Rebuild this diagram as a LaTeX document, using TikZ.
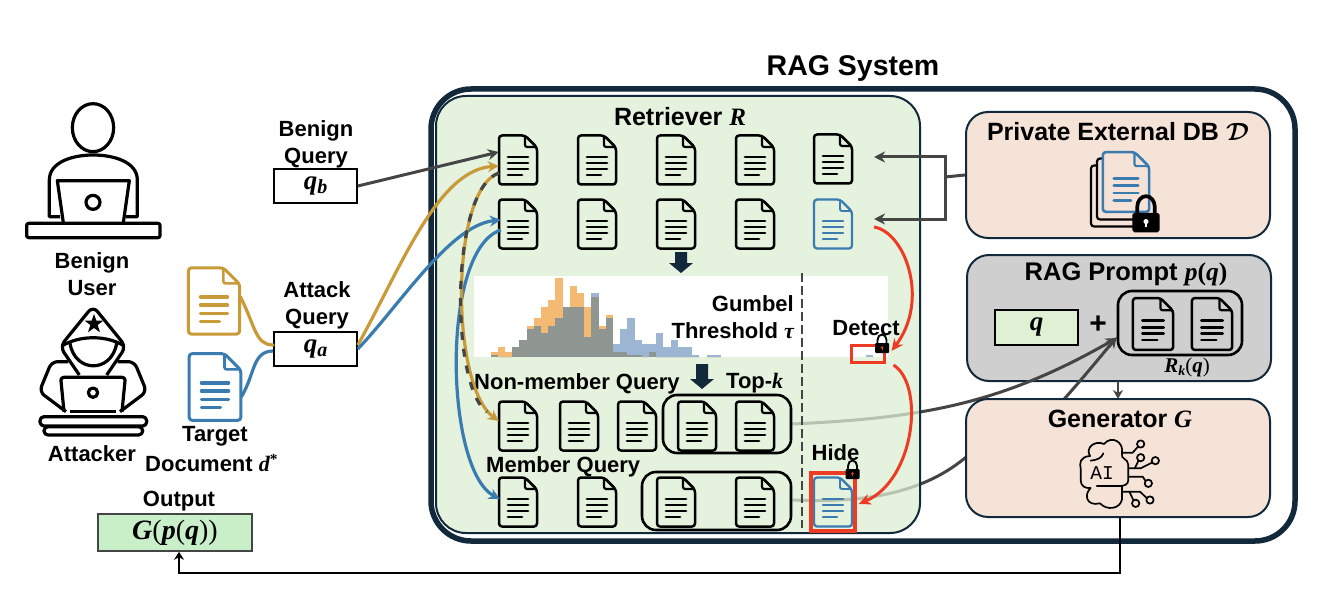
\documentclass[tikz,border=0pt]{standalone}
\usepackage{fontspec}
\setmainfont{Liberation Sans}
\newfontfamily\mvf{Liberation Serif}
\newfontfamily\aifont{Liberation Mono}
\newcommand\mv[1]{{\mvf\bfseries\itshape #1}}
\newcommand\mr[1]{{\mvf #1}}
\newcommand\fsz[1]{\fontsize{#1}{#1}\selectfont}
\usetikzlibrary{arrows.meta,calc}
\definecolor{navy}{HTML}{12293B}
\definecolor{docblue}{HTML}{3A7CB0}
\definecolor{docgold}{HTML}{C99A38}
\definecolor{linegray}{HTML}{454545}
\definecolor{redline}{HTML}{EE3B24}
\definecolor{peach}{HTML}{F5E3D8}
\definecolor{promptgray}{HTML}{CFCFCF}
\definecolor{histo}{HTML}{F4B973}
\definecolor{histb}{HTML}{9BB5D3}
\definecolor{histg}{HTML}{8F9591}
\definecolor{retr}{RGB}{219,238,212}
\definecolor{outgreen}{RGB}{201,239,201}
\definecolor{qgreen}{RGB}{223,240,213}
\pgfdeclarelayer{base}\pgfdeclarelayer{curves}\pgfdeclarelayer{mid}
\pgfsetlayers{base,curves,mid,main}
\def\doclw{2.5}
\tikzset{
  x=1pt,y=-1pt,
  lbl/.style={font=\bfseries\fsz{22},inner sep=0pt,align=center},
  panel/.style={draw=navy,line width=2pt,rounded corners=22pt,inner sep=0pt},
  qbox/.style={draw=black,line width=1.6pt,fill=white,inner sep=0pt,minimum width=83pt,minimum height=34pt,font=\fsz{27}},
  topbox/.style={draw=black,line width=2.6pt,rounded corners=14pt,inner sep=0pt},
  docnode/.style={inner sep=0pt,minimum width=38pt,minimum height=49pt},
  conn/.style={line width=3pt,color=linegray,-{Stealth[length=11pt,width=11pt]}},
  goldc/.style={line width=3.2pt,color=docgold},
  bluec/.style={line width=3.2pt,color=docblue},
  redc/.style={line width=3pt,color=redline,-{Stealth[length=12pt,width=11pt]}},
  blockarrow/.style={fill=navy,draw=none},
  doclw/.store in=\doclw,
  docicon/.pic={
    \path[draw,pic actions,line width=\doclw pt,rounded corners=3pt,line join=round]
      (-19,-24.5) -- (7,-24.5) -- (19,-12.5) -- (19,24.5) -- (-19,24.5) -- cycle;
    \draw[line width=.85*\doclw pt,rounded corners=2pt] (7,-24) -- (7,-13) -- (18.5,-13);
    \draw[line width=1.1*\doclw pt,line cap=round] (-10,-3)--(10,-3) (-10,3)--(10,3) (-10,9)--(10,9) (-10,15)--(4,15);
  }
}
\newcommand\docn[5][]{\node[docnode] (#2) at (#3,#4) {};\pic[color=#5,#1] at (#2) {docicon};}
\newcommand\lockicon[5]{%
  \begin{scope}[shift={(#1,#2)},x=#3pt,y=-#3pt]
   \draw[black,line width=#3*1.9pt] (-4.5,-5) -- (-4.5,-8) arc[start angle=180,end angle=0,x radius=4.5,y radius=-5.5] -- (4.5,-5);
   \fill[black,rounded corners=#3*1pt] (-7,-5) rectangle (7,5);
   \fill[#4] (0,-.5) circle[radius=1.3];
   \fill[#4] (-.5,0) rectangle (.5,#5);
  \end{scope}}
\begin{document}
\begin{tikzpicture}
\useasboundingbox (0,0) rectangle (1324,596);

% ---- layered boxes
\begin{pgfonlayer}{base}
 \fill[white] (0,0) rectangle (1324,596);
 \node[draw=navy,line width=5.5pt,rounded corners=40pt,minimum width=864pt,minimum height=452pt,inner sep=0pt] (rag) at (863,315) {};
 \node[panel,fill=promptgray,minimum width=304pt,minimum height=126pt] (prompt) at (1119,318) {};
\end{pgfonlayer}
\begin{pgfonlayer}{mid}
 \node[draw=navy,line width=2pt,fill=retr,fill opacity=.75,draw opacity=1,rounded corners=30pt,minimum width=484pt,minimum height=437pt,inner sep=0pt] (retriever) at (678,314.5) {};
 \node[panel,fill=peach,minimum width=304pt,minimum height=126pt] (db) at (1118,175) {};
 \node[panel,fill=peach,minimum width=304pt,minimum height=118pt] (gen) at (1118,458) {};
\end{pgfonlayer}

\node[lbl,font=\bfseries\fsz{28.5}] (ragt) at (853,69) {RAG System};
\node[lbl,font=\bfseries\fsz{25}] (rett) at (680,117) {Retriever \mv{R}};
\node[lbl,font=\bfseries\fsz{25}] (dbt) at (1118,132) {Private External DB {\boldmath$\mathcal{D}$}};
\node[lbl,font=\bfseries\fsz{25.5}] (prt) at (1126,274) {RAG Prompt \mv{p}\mr{(}\mv{q}\mr{)}};
\node[lbl,font=\bfseries\fsz{25}] (gent) at (1120,419) {Generator \mv{G}};

% ---- white histogram panel
\node[fill=white,minimum width=414pt,minimum height=81pt,inner sep=0pt] (histpanel) at (681,316.5) {};
\begin{scope}[shift={(430,90)},x=.33333pt,y=-.33333pt]
 \foreach \i/\o/\b/\g in {0/785/795/795,1/772/802/802,2/785/802/802,3/772/772/772,4/750/750/750,5/707/718/718,6/685/707/707,7/652/728/728,8/630/707/707,9/565/685/685,10/652/652/652,11/587/652/652,12/608/652/652,13/652/740/740,14/620/608/620,15/707/718/718,16/675/685/685,17/785/762/785,18/785/718/785,19/795/685/795,20/795/750/795,21/802/762/802,22/785/762/785,23/802/728/802,24/802/772/802,25/802/750/802,26/802/772/802,27/802/772/802,28/802/795/802,30/802/795/802,31/802/795/802}{
   \pgfmathsetmacro\xa{182+21.6*\i}\pgfmathsetmacro\xb{182+21.6*(\i+1)}
   \fill[histo] (\xa,\o) rectangle (\xb,802);
   \fill[histb] (\xa,\b) rectangle (\xb,802);
   \fill[histg] (\xa,\g) rectangle (\xb,802);
 }
 \fill[histb] (1307,795) rectangle (1330,802);
\end{scope}
\node[lbl,anchor=east] (gumbel) at (794,304) {Gumbel};
\node[lbl,anchor=east] (thresh) at (794,331) {Threshold \mv{τ}};
\node[lbl] (detect) at (866,328) {Detect};
\node[draw=redline,line width=3pt,inner sep=0pt,minimum width=33pt,minimum height=17pt] (detbox) at (867.5,354) {};
\lockicon{882}{348}{1}{redline}{2}

% ---- dashed divider
\coordinate (divT) at (802,273); \coordinate (divB) at (802,528);
\draw[linegray,line width=2.8pt,dash pattern=on 9pt off 4pt] (divT) -- (divB);

% ---- documents
\docn{d11}{518}{160}{black}\docn{d12}{597}{160}{black}\docn{d13}{676}{160}{black}\docn{d14}{755}{160}{black}\docn{d15}{833}{159}{black}
\docn{d21}{518}{224}{black}\docn{d22}{597}{224}{black}\docn{d23}{676}{224}{black}\docn{d24}{755}{224}{black}\docn[doclw=2.3]{d25}{833}{224}{docblue}
\docn{d31}{518}{426}{black}\docn{d32}{579}{426}{black}\docn{d33}{637}{426}{black}\docn{d34}{697}{426}{black}\docn{d35}{755}{426}{black}
\docn{d41}{518}{502}{black}\docn{d42}{597}{502}{black}\docn{d43}{676}{502}{black}\docn{d44}{755}{502}{black}\docn[doclw=2.3]{d45}{833}{502}{docblue}
\node[topbox,minimum width=128pt,minimum height=58pt] (topk) at (727,424) {};
\node[topbox,minimum width=149pt,minimum height=58pt] (member) at (716.5,501) {};
\node[draw=redline,line width=3.5pt,inner sep=0pt,minimum width=44pt,minimum height=58pt] (hidebox) at (833,502) {};
\lockicon{852.5}{474}{1}{redline}{2}

\node[lbl,anchor=west] (nonm) at (474,384) {Non-member Query};
\node[lbl,anchor=west] (memq) at (486,467) {Member Query};
\node[lbl,anchor=west] (topkt) at (726,383) {Top-\mv{k}};
\node[lbl] (hide) at (835.5,453) {Hide};

% ---- block arrows
\fill[blockarrow] (675,252) -- (687,252) -- (687,263) -- (693,263) -- (681,273) -- (669,263) -- (675,263) -- cycle;
\fill[blockarrow] (696,364) -- (708,364) -- (708,379) -- (714,379) -- (702,389) -- (690,379) -- (696,379) -- cycle;

% ---- left: benign user
\begin{scope}[shift={(0,90)},x=.33333pt,y=-.33333pt,line width=3.2pt,black,line join=round]
 \draw (279,113) ellipse[x radius=62,y radius=72];
 \draw (180,380) -- (148,380) -- (148,270) .. controls (148,215) and (220,195) .. (279,195) .. controls (340,195) and (412,215) .. (412,270) -- (412,380) -- (378,380);
 \draw (190,398) -- (172,272) -- (388,272) -- (370,398);
 \draw (279,337) circle[radius=21];
 \draw[rounded corners=2pt] (80,400) rectangle (480,443);
 % attacker
 \draw[rounded corners=7pt] (320,855) -- (378,770) -- (279,648) -- (180,770) -- (238,855);
 \draw (185,768) .. controls (240,735) and (320,735) .. (373,768);
 \draw (210,760) .. controls (225,850) and (335,850) .. (350,760);
 \draw[rounded corners=6pt] (205,815) -- (155,815) -- (118,905) -- (198,965);
 \draw[rounded corners=6pt] (353,815) -- (403,815) -- (440,905) -- (360,965);
 \draw[rounded corners=3pt] (192,965) -- (182,862) -- (376,862) -- (366,965);
 \draw (210,965) -- (348,965);
 \draw (279,908) circle[radius=14];
 \draw[rounded corners=4pt] (120,980) rectangle (440,1008);
 \draw[rounded corners=4pt] (132,1010) rectangle (428,1035);
 \fill (282,672) -- (289,692) -- (310,692) -- (293,705) -- (300,727) -- (282,714) -- (264,727) -- (271,705) -- (254,692) -- (275,692) -- cycle;
\end{scope}
\node[lbl] (buser) at (92,274) {Benign\\[5pt]User};
\node[lbl] (attacker) at (92,454) {Attacker};

% ---- target documents
\docn[scale=1.35,doclw=3]{tgold}{214}{301}{docgold}
\docn[scale=1.36,doclw=3]{tblue}{215}{387}{docblue}
\node[lbl,align=center] (target) at (215,436) {Target};
\node[lbl,anchor=west] (tdoc) at (145,463) {Document \mv{d}\textsuperscript{\mr{*}}};

% ---- query boxes
\node[lbl] (bq) at (316,144) {Benign\\[5pt]Query};
\node[qbox] (qb) at (315.5,186) {\mv{q}\raisebox{-4pt}{\fsz{20}\mv{b}}};
\node[lbl] (aq) at (317,305) {Attack\\[5pt]Query};
\node[qbox] (qa) at (315.5,349) {\mv{q}\raisebox{-4pt}{\fsz{20}\mv{a}}};
\node[lbl] (outl) at (179,501) {Output};
\node[draw=linegray,line width=1.6pt,fill=outgreen,inner sep=0pt,minimum width=154pt,minimum height=37pt,font=\fsz{28}] (out) at (175,532.5) {\mv{G}\mr{(}\mv{p}\mr{(}\mv{q}\mr{))}};

% ---- prompt contents
\node[draw=black,line width=1.6pt,fill=qgreen,inner sep=0pt,minimum width=83pt,minimum height=35pt,font=\fsz{27}] (qq) at (1036.5,327.5) {\mv{q}};
\node[lbl,font=\bfseries\fsz{30}] (plus) at (1098,325) {+};
\node[topbox,minimum width=124pt,minimum height=64pt] (rk) at (1180,323) {};
\docn[scale=1.06]{p1}{1153}{324}{black}
\docn[scale=1.06]{p2}{1212}{324}{black}
\node[inner sep=0pt,font=\fsz{21}] (rkt) at (1187,367) {\mv{R}\raisebox{-3pt}{\fsz{14}\mv{k}}\mr{(}\mv{q}\mr{)}};

% ---- DB icon
\node[draw=black,line width=2.2pt,fill=peach,rounded corners=3pt,minimum width=46pt,minimum height=61pt,inner sep=0pt] (dbb1) at (1114,196) {};
\node[draw=black,line width=2.2pt,fill=peach,rounded corners=3pt,minimum width=46pt,minimum height=61pt,inner sep=0pt] (dbb2) at (1120,189) {};
\docn[scale=1.22,fill=peach,doclw=2.6]{dbdoc}{1126}{182}{docblue}
\lockicon{1146}{222.5}{1.95}{white}{2.4}

% ---- generator icon
\begin{scope}[shift={(920,90)},x=.33333pt,y=-.33333pt,line width=1.7pt,black,line join=round,line cap=round]
 \draw (606,1090) .. controls (612,1055) and (575,1035) .. (552,1062) .. controls (525,1050) and (495,1072) .. (510,1098) .. controls (480,1100) and (478,1120) .. (482,1135) -- (482,1170) .. controls (482,1188) and (495,1196) .. (512,1194) .. controls (490,1215) and (500,1250) .. (540,1240) .. controls (560,1262) and (600,1258) .. (606,1228) -- (606,1190);
 \draw (512,1112) .. controls (530,1110) and (545,1105) .. (550,1090);
 \draw (606,1090) .. controls (600,1108) and (625,1105) .. (625,1125) -- (625,1170) .. controls (625,1185) and (610,1188) .. (600,1188) -- (530,1188);
 \draw (606,1088) -- (638,1088) -- (654,1070);
 \draw (662,1062) circle[radius=11];
 \draw (628,1135) -- (662,1135) -- (696,1118);
 \draw (706,1112) circle[radius=11];
 \draw (645,1133) -- (655,1113);
 \draw (662,1103) circle[radius=11];
 \draw (628,1160) -- (668,1160) -- (676,1172);
 \draw (685,1180) circle[radius=11];
 \draw (606,1205) -- (660,1205) -- (680,1224);
 \draw (690,1230) circle[radius=11];
 \draw (628,1205) -- (640,1230);
 \draw (647,1240) circle[radius=11];
\end{scope}
\node[inner sep=0pt,font=\aifont\fsz{19.5}] (ai) at (1102,473) {AI};

% ---- curves under the retriever and generator fills
\begin{pgfonlayer}{curves}
 \draw[conn] (topk.east) .. controls (920,418) and (1000,405) .. ([yshift=-15pt]rk.west);
 \draw[conn] ([yshift=1pt]member.east) .. controls (860,503) and (920,495) .. (gen.west) .. controls (1010,462) and (1040,430) .. ([yshift=-14pt]rk.west);
\end{pgfonlayer}

% ---- connectors
\draw[conn] (qb.east) -- ([yshift=8pt]d11.west);
\draw[goldc,-{Stealth[length=11pt,width=11pt]}] ([yshift=4pt]qa.east) .. controls (400,270) and (437,170) .. ([yshift=-6pt]d11.west);
\draw[bluec,-{Stealth[length=11pt,width=11pt]}] (qa.east) .. controls (400,305) and (450,225) .. ([xshift=2pt,yshift=4pt]d21.west);
\draw[bluec,-{Stealth[length=11pt,width=11pt]}] ([xshift=2pt,yshift=-6pt]d21.west) .. controls (440,250) and (445,470) .. ([xshift=1pt,yshift=3pt]d41.west);
\draw[goldc,-{Stealth[length=11pt,width=11pt]}] ([yshift=-13pt]d11.west) .. controls (450,190) and (450,385) .. ([yshift=5pt]d31.west);
\path[draw=linegray,line width=3.2pt,dash pattern=on 8pt off 9pt] ([yshift=-13pt]d11.west) .. controls (450,190) and (450,385) .. ([xshift=-12pt,yshift=14pt]d31.west);
\draw[goldc,line cap=round] (tgold.east) ++(7,-4.5) .. controls (255,325) and (255,345) .. ([yshift=4pt]qa.west);
\draw[bluec] (tblue.east) ++(7,10) .. controls (255,375) and (252,351) .. ([yshift=-2pt]qa.west);

% DB fan-out
\coordinate (fan) at (945,177);
\coordinate (fanT) at (945,157);
\coordinate (fanB) at (945,219);
\coordinate (inT) at (874,157);
\coordinate (inB) at (874,219);
\coordinate (redS) at (874,227);
\draw[linegray,line width=3pt] (db.west) -- (fan);
\draw[conn] (fan) -- (fanT) -- (inT);
\draw[conn] (fan) -- (fanB) -- (inB);

% red arrows
\draw[redc] (redS) .. controls (905,232) and (930,300) .. ([xshift=6pt,yshift=3pt]detbox.east);
\draw[redc] ([xshift=8pt,yshift=-11pt]detbox.east) .. controls (925,385) and (915,480) .. ([xshift=2pt,yshift=-2pt]hidebox.east);

% prompt -> generator
\draw[line width=2.4pt,color=linegray,-{Stealth[length=9pt,width=10pt]}] (1118,381) -- (1118,399);

% generator -> output
\coordinate (genb) at (1120,573);
\coordinate (outb) at (179,573);
\draw[black,line width=2.6pt,-{Stealth[length=8pt,width=10pt]}] (gen.south -| genb) -- (genb) -- (outb) -- (out.south -| outb);
\end{tikzpicture}
\end{document}
